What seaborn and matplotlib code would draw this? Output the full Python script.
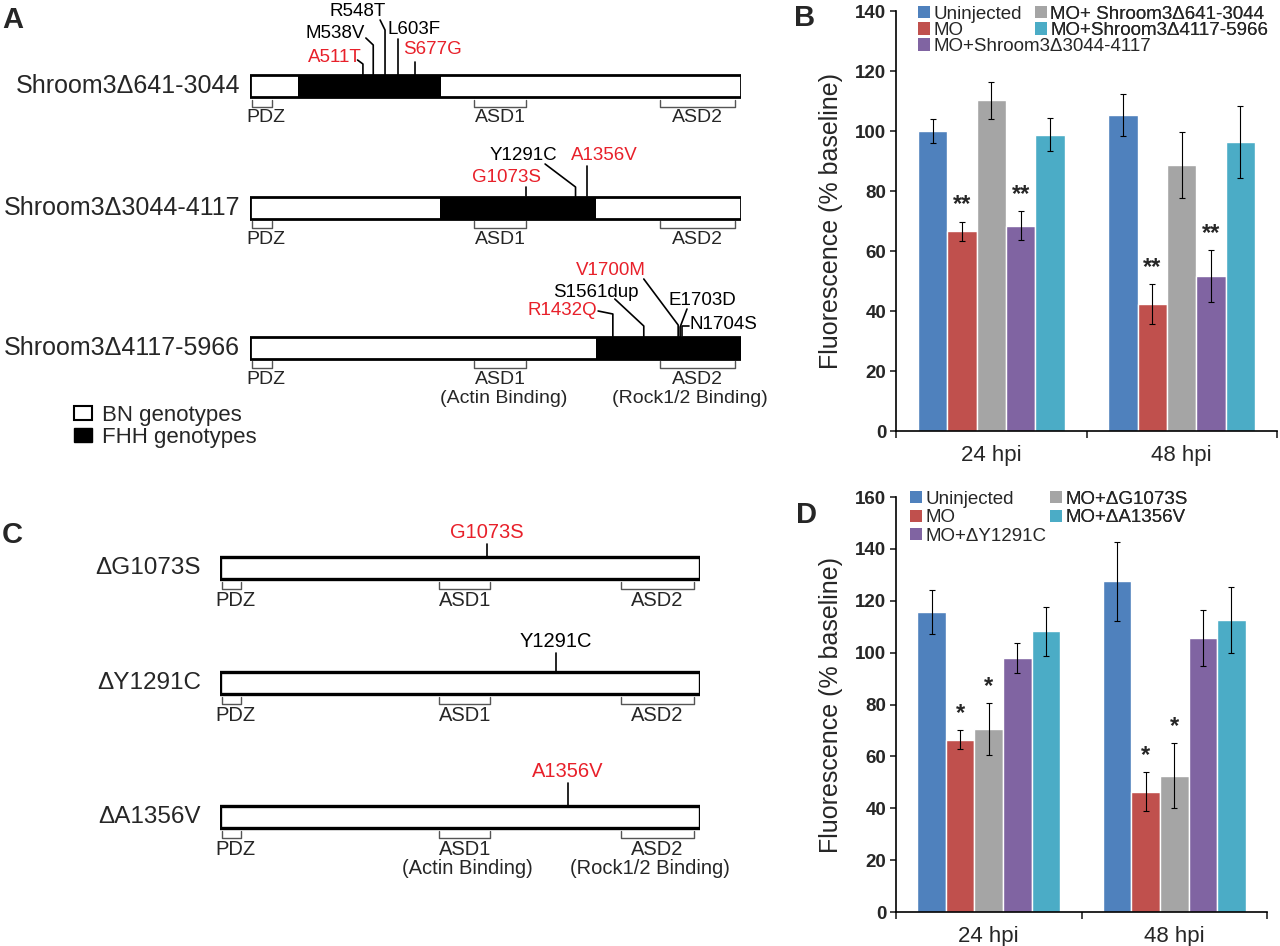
"""Shroom3 constructs (A, C) and rescue fluorescence bar charts (B, D)."""

import matplotlib

matplotlib.use("Agg")
import matplotlib.pyplot as plt
import numpy as np
import pandas as pd
import seaborn as sns
from matplotlib.patches import Patch

W, H = 1280, 946

# ---------------- bar chart data ----------------
timepoints = ["24 hpi", "48 hpi"]

groups_b = ["Uninjected", "MO", "MO+ Shroom3Δ641-3044", "MO+Shroom3Δ3044-4117", "MO+Shroom3Δ4117-5966"]
mean_b_24 = [100.0, 66.5, 110.2, 68.4, 98.7]
mean_b_48 = [105.3, 42.2, 88.8, 51.6, 96.3]
err_b_24 = [4.0, 3.2, 6.1, 4.8, 5.5]
err_b_48 = [7.0, 6.7, 11.0, 8.6, 12.0]
stars_b_24 = ["", "**", "", "**", ""]
stars_b_48 = ["", "**", "", "**", ""]

groups_d = ["Uninjected", "MO", "MO+ΔG1073S", "MO+ΔY1291C", "MO+ΔA1356V"]
mean_d_24 = [115.8, 66.5, 70.5, 98.0, 108.2]
mean_d_48 = [127.5, 46.3, 52.6, 105.5, 112.6]
err_d_24 = [8.5, 3.5, 10.0, 5.8, 9.5]
err_d_48 = [15.2, 7.5, 12.4, 10.8, 12.8]
stars_d_24 = ["", "*", "*", "", ""]
stars_d_48 = ["", "*", "*", "", ""]

palette = ["#4F81BD", "#C0504D", "#A5A5A5", "#8064A2", "#4BACC6"]

# ---------------- schematic data (percent of drawn protein length) ----------------
domain_names = ["PDZ", "ASD1", "ASD2"]
domain_start = [0.0, 45.2, 83.1]
domain_end = [4.9, 56.8, 99.2]
domain_notes = ["", "(Actin Binding)", "(Rock1/2 Binding)"]

constructs_a = ["Shroom3Δ641-3044", "Shroom3Δ3044-4117", "Shroom3Δ4117-5966"]
fhh_start = [9.8, 38.7, 70.5]
fhh_end = [38.9, 70.5, 100.0]
mutations_a = [
    ["A511T", "M538V", "R548T", "L603F", "S677G"],
    ["G1073S", "Y1291C", "A1356V"],
    ["R1432Q", "S1561dup", "V1700M", "E1703D", "N1704S"],
]
mutation_pos_a = [
    [23.0, 25.1, 27.5, 30.1, 33.6],
    [56.2, 66.3, 68.7],
    [73.9, 80.2, 87.2, 87.6, 87.9],
]

constructs_c = ["ΔG1073S", "ΔY1291C", "ΔA1356V"]
mutations_c = ["G1073S", "Y1291C", "A1356V"]
mutation_pos_c = [55.6, 70.0, 72.4]

red_mutations = ["A511T", "S677G", "G1073S", "A1356V", "R1432Q", "V1700M"]

# ---------------- style ----------------
sns.set_style("white")
plt.rcParams["font.family"] = ["Liberation Sans", "DejaVu Sans"]
RED = "#E8202A"

fig = plt.figure(figsize=(W / 100, H / 100), dpi=100)


def px_axes(x0, y0, x1, y1):
    return fig.add_axes([x0 / W, 1 - y1 / H, (x1 - x0) / W, (y1 - y0) / H])


# ---------------- bar panels ----------------
def bar_panel(ax, groups, m24, m48, e24, e48, s24, s48, ymax, leg_x, leg_y, row_gap):
    df = pd.DataFrame({
        "time": np.repeat(timepoints, len(groups)),
        "group": groups * 2,
        "value": m24 + m48,
        "err": e24 + e48,
        "star": s24 + s48,
    })
    sns.barplot(data=df, x="time", y="value", hue="group", hue_order=groups,
                palette=palette, saturation=1, width=0.77, errorbar=None,
                legend=False, ax=ax)
    bar_sets = list(ax.containers)[:len(groups)]
    for i, cont in enumerate(bar_sets):
        for j, bar in enumerate(cont):
            row = df[(df["group"] == groups[i]) & (df["time"] == timepoints[j])].iloc[0]
            xc = bar.get_x() + bar.get_width() / 2
            ax.errorbar(xc, row["value"], yerr=row["err"], fmt="none", ecolor="black",
                        elinewidth=0.8, capsize=2, capthick=0.8)
            if row["star"]:
                ax.annotate(row["star"], (xc, row["value"] + row["err"]), xytext=(0, 4),
                            textcoords="offset points", ha="center", va="bottom",
                            fontsize=17, fontweight="bold")
    ax.set_xlim(-0.5, 1.5)
    ax.set_ylim(0, ymax)
    ax.set_yticks(np.arange(0, ymax + 1, 20))
    ax.set_xlabel("")
    ax.set_ylabel("Fluorescence (% baseline)", fontsize=18, labelpad=9)
    sns.despine(ax=ax)
    for sp in ("left", "bottom"):
        ax.spines[sp].set_color("black")
        ax.spines[sp].set_linewidth(1.2)
    ax.tick_params(axis="y", direction="out", length=4, width=1.2, labelsize=13.5, pad=3, left=True)
    for t in ax.get_yticklabels():
        t.set_fontweight("bold")
    ax.tick_params(axis="x", which="major", length=0, labelsize=16, pad=10)
    ax.set_xticks([-0.5, 0.5, 1.5], minor=True)
    ax.tick_params(axis="x", which="minor", direction="out", length=5, width=1.2, bottom=True)

    handles = [Patch(facecolor=c, edgecolor="none") for c in palette]
    cols = [[0, 1, 3], [2, 4]]
    for k, col in enumerate(cols):
        leg = ax.legend([handles[i] for i in col], [groups[i] for i in col],
                        loc="upper left", bbox_to_anchor=(leg_x[k] / W, 1 - leg_y / H),
                        bbox_transform=fig.transFigure, frameon=False, fontsize=13.5,
                        handlelength=0.62, handleheight=0.62, handletextpad=0.2,
                        labelspacing=row_gap, borderpad=0, borderaxespad=0)
        ax.add_artist(leg)


ax_b = px_axes(896, 11, 1277, 431)
bar_panel(ax_b, groups_b, mean_b_24, mean_b_48, err_b_24, err_b_48, stars_b_24, stars_b_48,
          140, (918, 1035), 6, -0.05)
ax_d = px_axes(896, 497, 1267, 912)
bar_panel(ax_d, groups_d, mean_d_24, mean_d_48, err_d_24, err_d_48, stars_d_24, stars_d_48,
          160, (910, 1050), 491, 0.08)


# ---------------- schematic panels ----------------
def draw_construct(ax, yc, bh, name, fhh, name_fs, name_x, lw):
    ax.barh(yc, 100, left=0, height=bh, color="white", edgecolor="black", linewidth=lw)
    if fhh is not None:
        ax.barh(yc, fhh[1] - fhh[0], left=fhh[0], height=bh, color="black", edgecolor="none")
    ax.text(name_x, yc, name, ha="right", va="center", fontsize=name_fs)
    yb = yc + bh / 2
    for s, e in zip(domain_start, domain_end):
        ax.plot([s + 0.5, s + 0.5, e - 0.5, e - 0.5], [yb + 3, yb + 10, yb + 10, yb + 3],
                color="#555555", lw=1, clip_on=False)
    return yb


def domain_labels(ax, yb, fs, notes):
    note_shift = [0, 0.6, -1.5]
    for k, (name, s, e, note) in enumerate(zip(domain_names, domain_start, domain_end, domain_notes)):
        xm = (s + e) / 2 + (0.8 if name == "PDZ" else 0)
        ax.text(xm, yb + 21, name, ha="center", va="center", fontsize=fs)
        if notes and note:
            ax.text(xm + note_shift[k], yb + 40, note, ha="center", va="center", fontsize=fs)


# panel A: axes x spans the drawn protein (0-100 %), y in pixel rows
ax_a = px_axes(250, 0, 741, 470)
ax_a.set_xlim(0, 100)
ax_a.set_ylim(470, 0)
ax_a.axis("off")

rows_a = [86, 207.5, 347.5]
# label layout per mutation: (text x, text y, ha, stem top y, leader end x, leader end y)
layout_a = [
    [(22.8, 58, "right", 64, 21.9, 60), (23.4, 33, "right", 45, 23.6, 38),
     (22.0, 12, "center", 30, 26.5, 20), (33.4, 30, "center", 39, None, None),
     (37.1, 50, "center", 62, None, None)],
    [(52.3, 178, "center", 187, None, None), (55.6, 155, "center", 187, 60.1, 164),
     (72.1, 155, "center", 166, None, None)],
    [(70.7, 310, "right", 314, 70.9, 311), (70.5, 292, "center", 326, 74.3, 299),
     (73.5, 270, "center", 325, 80.2, 279), (92.1, 300, "center", 327, 89.0, 309),
     (89.5, 324, "left", 326, 89.4, 326)],
]
for r, yc in enumerate(rows_a):
    yb = draw_construct(ax_a, yc, 22, constructs_a[r], (fhh_start[r], fhh_end[r]), 18, -2.0, 2)
    domain_labels(ax_a, yb, 14, r == 2)
    ytop = yc - 11
    for mut, pos, lay in zip(mutations_a[r], mutation_pos_a[r], layout_a[r]):
        tx, ty, ha, stem_top, lx, ly = lay
        xs, ys = [pos, pos], [ytop, stem_top]
        if lx is not None:
            xs.append(lx)
            ys.append(ly)
        ax_a.plot(xs, ys, color="black", lw=1.2, clip_on=False)
        ax_a.text(tx, ty, mut, ha=ha, va="center", fontsize=13.5,
                  color=RED if mut in red_mutations else "black")

fig.legend([Patch(facecolor="white", edgecolor="black", linewidth=1.5),
            Patch(facecolor="black", edgecolor="black")],
           ["BN genotypes", "FHH genotypes"], loc="upper left",
           bbox_to_anchor=(74 / W, 1 - 405 / H), frameon=False, fontsize=16,
           handlelength=0.8, handleheight=0.62, handletextpad=0.45,
           labelspacing=0.05, borderpad=0, borderaxespad=0)

# panel C
ax_c = px_axes(220, 470, 700, 946)
ax_c.set_xlim(0, 100)
ax_c.set_ylim(946, 470)
ax_c.axis("off")
rows_c = [568, 683, 817]
stems_c = [13, 19, 23]
for r, yc in enumerate(rows_c):
    yb = draw_construct(ax_c, yc, 22, constructs_c[r], None, 17.5, -4.0, 2.4)
    domain_labels(ax_c, yb, 14.5, r == 2)
    ytop = yc - 11
    ax_c.plot([mutation_pos_c[r]] * 2, [ytop, ytop - stems_c[r]], color="black", lw=1.2,
              clip_on=False)
    ax_c.text(mutation_pos_c[r], ytop - stems_c[r] - 12, mutations_c[r], ha="center",
              va="center", fontsize=14.5,
              color=RED if mutations_c[r] in red_mutations else "black")

# panel letters
for letter, (x, y) in zip("ABCD", [(13, 20), (805, 18), (12, 535), (806, 515)]):
    fig.text(x / W, 1 - y / H, letter, ha="center", va="center", fontsize=21, fontweight="bold")

fig.savefig("out.png", dpi=100)
